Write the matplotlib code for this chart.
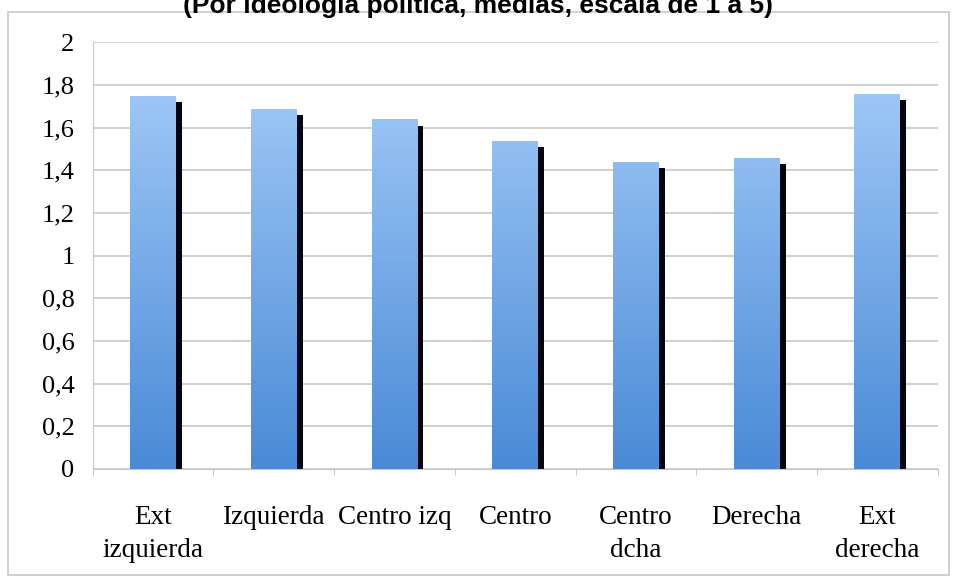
import numpy as np
import matplotlib.pyplot as plt
from matplotlib.patches import Rectangle
from matplotlib.colors import LinearSegmentedColormap

# datos
categorias = ['Ext\nizquierda', 'Izquierda', 'Centro izq', 'Centro', 'Centro\ndcha', 'Derecha', 'Ext\nderecha']
medias = [1.75, 1.69, 1.64, 1.54, 1.44, 1.46, 1.76]
yticks = [0, 0.2, 0.4, 0.6, 0.8, 1, 1.2, 1.4, 1.6, 1.8, 2]

fig = plt.figure(figsize=(9.55, 5.78), dpi=100)
ax = fig.add_axes([0.097, 0.1886, 0.885, 0.738])

# marco exterior
fig.patches.append(Rectangle((0.008, 0.005), 0.986, 0.974, transform=fig.transFigure,
                             fill=False, edgecolor='#c8c8c8', lw=1.2))

fig.text(0.5, 0.989, '(Por ideología política, medias, escala de 1 a 5)', ha='center', va='center',
         fontsize=19, fontweight='bold', family='Liberation Sans')

x = np.arange(len(categorias))
ancho = 0.38
grad = LinearSegmentedColormap.from_list('azul', ['#4a8ad6', '#a9cffb'])

# sombra negra a la derecha
ax.bar(x + ancho / 2 + 0.022, [m - 0.03 for m in medias], width=0.055, color='#05050d', zorder=2)
barras = ax.bar(x, medias, width=ancho, color='none', zorder=3)
img = np.linspace(0, 1, 256).reshape(-1, 1)
for b in barras:
    bx = b.get_x()
    im = ax.imshow(img, cmap=grad, origin='lower', aspect='auto', zorder=3,
                   extent=[bx, bx + b.get_width(), 0, 2])
    im.set_clip_path(b)

ax.set_xlim(-0.5, len(categorias) - 0.5)
ax.set_ylim(0, 2)
ax.set_yticks(yticks)
ax.set_yticklabels([f'{v:g}'.replace('.', ',') for v in yticks], family='Liberation Serif', fontsize=19)
ax.set_xticks(x)
ax.set_xticklabels(categorias, family='Liberation Serif', fontsize=19.5, linespacing=1.4)
ax.set_xticks(np.arange(-0.5, len(categorias)), minor=True)
ax.tick_params(axis='x', which='major', length=0, pad=26)
ax.tick_params(axis='x', which='minor', length=4, color='#bbbbbb', direction='out')
ax.tick_params(axis='y', length=0, pad=13)
ax.yaxis.grid(True, color='#c8c8c8', lw=1.2, zorder=0)
ax.set_axisbelow(True)
for s in ['top', 'right']:
    ax.spines[s].set_visible(False)
ax.spines['left'].set_color('#c8c8c8')
ax.spines['bottom'].set_color('#c8c8c8')

fig.savefig('out.png', dpi=100)
